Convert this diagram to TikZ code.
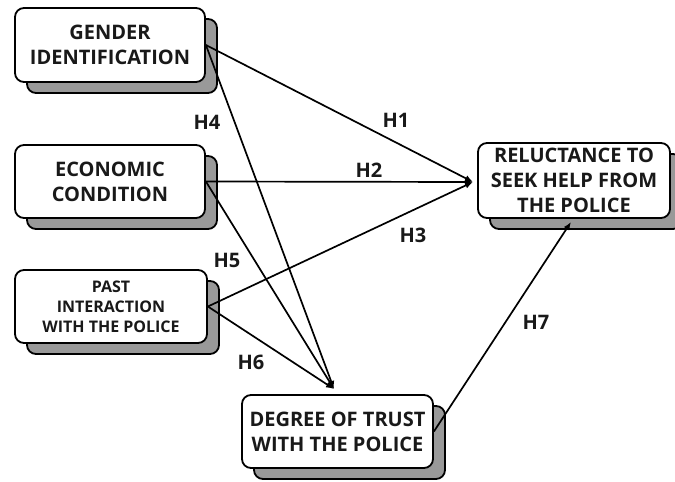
\documentclass[tikz,border=0pt]{standalone}
\usepackage{fontspec}
\setmainfont{Open Sans}
\usetikzlibrary{shadows,arrows.meta}
\begin{document}
\begin{tikzpicture}[x=1pt,y=-1pt,
  box/.style={draw=black, line width=1.8pt, fill=white, rounded corners=9pt,
    align=center, inner sep=0pt, text=black!90,
    font=\bfseries\fontsize{20}{25}\selectfont,
    copy shadow={shadow xshift=12pt, shadow yshift=-11pt, fill=black!40, draw=black, line width=1.8pt}},
  small/.style={font=\bfseries\fontsize{16}{20}\selectfont},
  arr/.style={line width=1.7pt, -{Latex[length=8pt,width=6.5pt]}},
  lab/.style={font=\bfseries\fontsize{20}{20}\selectfont, text=black!90, inner sep=0pt}]
\useasboundingbox (0,0) rectangle (675,482);
\node[box, minimum width=190pt, minimum height=74pt] (gi) at (110,45) {GENDER\\IDENTIFICATION};
\node[box, minimum width=190pt, minimum height=73pt] (ec) at (110,181.5) {ECONOMIC\\CONDITION};
\node[box, small, minimum width=192pt, minimum height=73pt] (pi) at (111,306.5) {PAST\\INTERACTION\\WITH THE POLICE};
\node[box, minimum width=191pt, minimum height=73pt] (dt) at (337.5,431.5) {DEGREE OF TRUST\\WITH THE POLICE};
\node[box, minimum width=192pt, minimum height=75pt] (rh) at (574,180.5) {RELUCTANCE TO\\SEEK HELP FROM\\THE POLICE};
\coordinate (rin) at (473,182);
\coordinate (din) at (334,389);
\coordinate (rbot) at (571,222);
\draw[arr] (gi.east) -- (rin);
\draw[arr] (ec.east) -- (rin);
\draw[arr] (pi.east) -- (rin);
\draw[arr] (gi.east) -- (din);
\draw[arr] (ec.east) -- (din);
\draw[arr] (pi.east) -- (din);
\draw[arr] (dt.east) -- (rbot);
\node[lab] (h1) at (396,120) {H1};
\node[lab] (h2) at (369,170) {H2};
\node[lab] (h3) at (413,235) {H3};
\node[lab] (h4) at (207,122) {H4};
\node[lab] (h5) at (227,260) {H5};
\node[lab] (h6) at (251,362) {H6};
\node[lab] (h7) at (536,322) {H7};
\end{tikzpicture}
\end{document}
